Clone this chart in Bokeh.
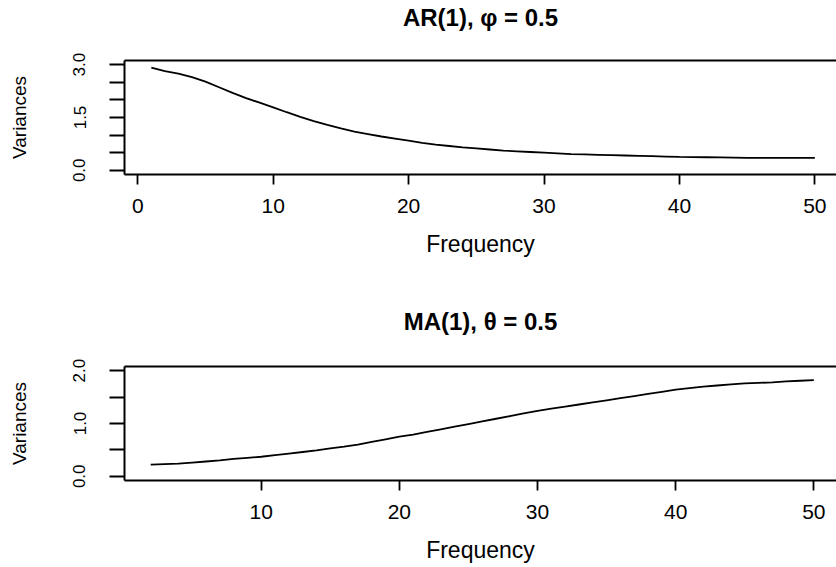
from bokeh.plotting import figure
from bokeh.models import Range1d, FixedTicker, ColumnDataSource, LinearAxis
from bokeh.layouts import column
from bokeh.embed import file_html
from bokeh.resources import INLINE

# ---------------- data ----------------
ar_title = "AR(1), \u03c6 = 0.5"
ma_title = "MA(1), \u03b8 = 0.5"
x_label = "Frequency"
y_label = "Variances"

ar_freq = list(range(1, 51))
ar_var = [2.92, 2.82, 2.75, 2.65, 2.52, 2.36, 2.20, 2.05, 1.92, 1.79,
          1.65, 1.52, 1.40, 1.29, 1.19, 1.10, 1.03, 0.96, 0.90, 0.84,
          0.78, 0.73, 0.69, 0.65, 0.62, 0.59, 0.56, 0.54, 0.52, 0.50,
          0.48, 0.46, 0.45, 0.44, 0.43, 0.42, 0.41, 0.40, 0.39, 0.38,
          0.375, 0.37, 0.365, 0.36, 0.35, 0.35, 0.35, 0.35, 0.35, 0.35]

ma_freq = list(range(2, 51))
ma_var = [0.22, 0.23, 0.24, 0.26, 0.28, 0.30, 0.33, 0.35, 0.37,
          0.40, 0.43, 0.46, 0.49, 0.53, 0.56, 0.60, 0.65, 0.70, 0.75,
          0.79, 0.84, 0.89, 0.94, 0.99, 1.04, 1.09, 1.14, 1.19, 1.24,
          1.28, 1.32, 1.36, 1.40, 1.44, 1.48, 1.52, 1.56, 1.60, 1.64,
          1.67, 1.70, 1.72, 1.74, 1.76, 1.77, 1.78, 1.80, 1.81, 1.82]

ar_xticks = [0, 10, 20, 30, 40, 50]
ma_xticks = [10, 20, 30, 40, 50]
ar_yticks = [0, 0.5, 1, 1.5, 2, 2.5, 3]
ar_ylabels = ["0.0", "", "", "1.5", "", "", "3.0"]
ma_yticks = [0, 0.5, 1, 1.5, 2]
ma_ylabels = ["0.0", "", "1.0", "", "2.0"]

FONT = "Liberation Sans"


def panel(title, freq, var, xr, yr, xticks, yticks, ylabels, height, btop, bbottom, tstand):
    p = figure(width=836, height=height, output_backend="svg", toolbar_location=None,
               x_range=Range1d(*xr), y_range=Range1d(*yr),
               min_border_left=124, min_border_right=0,
               min_border_top=btop, min_border_bottom=bbottom,
               x_axis_label=x_label, y_axis_label=y_label)
    p.outline_line_color = None
    p.xgrid.visible = False
    p.ygrid.visible = False
    p.background_fill_color = "white"
    p.border_fill_color = "white"

    xa = p.below[0]
    ya = p.left[0]

    # top edge of the box, carrying the panel title
    top = LinearAxis(ticker=FixedTicker(ticks=[]), axis_label=title)
    top.axis_line_width = 2
    top.axis_line_color = "black"
    top.major_tick_out = 0
    top.major_tick_in = 0
    top.minor_tick_out = 0
    top.minor_tick_in = 0
    top.major_label_standoff = 0
    top.axis_label_standoff = tstand
    top.axis_label_text_font = FONT
    top.axis_label_text_font_size = "24px"
    top.axis_label_text_font_style = "bold"
    top.axis_label_text_color = "black"
    p.add_layout(top, "above")

    src = ColumnDataSource(dict(f=freq, v=var))
    p.line(x="f", y="v", source=src, line_color="black", line_width=1.8)

    xa.ticker = FixedTicker(ticks=xticks)
    xa.axis_line_width = 2
    xa.axis_line_color = "black"
    xa.major_tick_line_width = 1.8
    xa.major_tick_line_color = "black"
    xa.major_tick_out = 10
    xa.major_tick_in = 0
    xa.minor_tick_out = 0
    xa.minor_tick_in = 0
    xa.major_label_standoff = 14
    xa.major_label_text_font = FONT
    xa.major_label_text_font_size = "21px"
    xa.major_label_text_color = "black"
    xa.axis_label_standoff = 15
    xa.axis_label_text_font = FONT
    xa.axis_label_text_font_size = "23px"
    xa.axis_label_text_font_style = "normal"
    xa.axis_label_text_color = "black"

    ya.ticker = FixedTicker(ticks=yticks)
    ya.major_label_overrides = {t: lab for t, lab in zip(yticks, ylabels)}
    ya.major_label_orientation = "vertical"
    ya.axis_line_width = 2
    ya.axis_line_color = "black"
    ya.major_tick_line_width = 1.8
    ya.major_tick_line_color = "black"
    ya.major_tick_out = 15
    ya.major_tick_in = 0
    ya.minor_tick_out = 0
    ya.minor_tick_in = 0
    ya.major_label_standoff = 24
    ya.major_label_text_font = FONT
    ya.major_label_text_font_size = "17px"
    ya.major_label_text_color = "black"
    ya.axis_label_standoff = 41
    ya.axis_label_text_font = FONT
    ya.axis_label_text_font_size = "19px"
    ya.axis_label_text_font_style = "normal"
    ya.axis_label_text_color = "black"
    return p


p1 = panel(ar_title, ar_freq, ar_var, (-0.98, 51.6), (-0.12, 3.12),
           ar_xticks, ar_yticks, ar_ylabels, 270, 58, 96, 30)
p2 = panel(ma_title, ma_freq, ma_var, (0.105, 51.64), (-0.08, 2.08),
           ma_xticks, ma_yticks, ma_ylabels, 297, 96, 87, 32)

layout = column(p1, p2, spacing=0)
open("out.html", "w").write(file_html(layout, INLINE))
